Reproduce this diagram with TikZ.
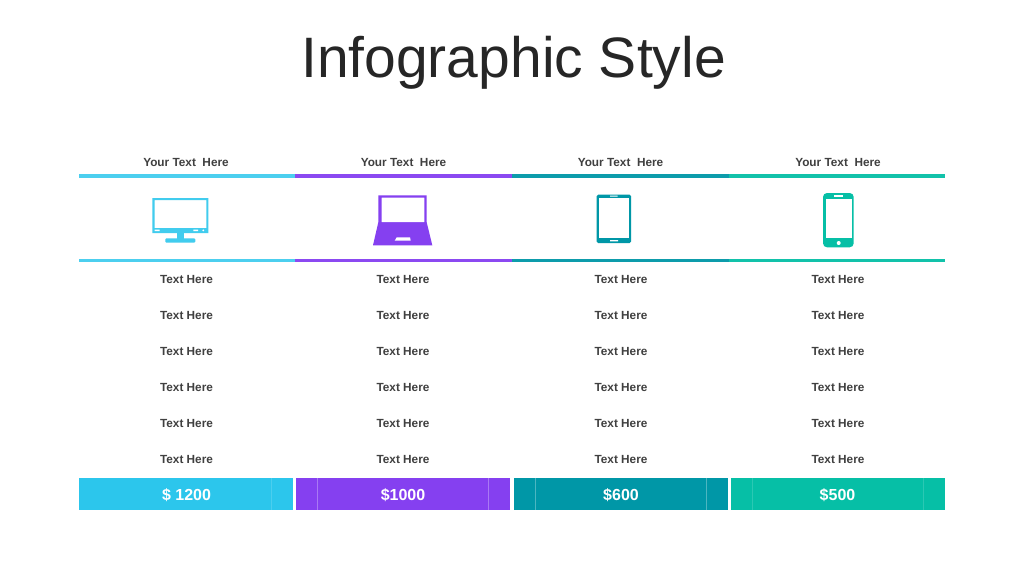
\documentclass[tikz,border=0pt]{standalone}
\usepackage{fontspec}
\setmainfont{Liberation Sans}
\definecolor{cA}{HTML}{2CC6EC}
\definecolor{cB}{HTML}{8540F0}
\definecolor{cC}{HTML}{0097A7}
\definecolor{cD}{HTML}{06BFA6}
\definecolor{ink}{HTML}{404040}
\definecolor{titleink}{HTML}{262626}
\tikzset{
  titletext/.style={text=titleink,font=\fontsize{57}{60}\selectfont,inner sep=0pt,anchor=center},
  headtext/.style={text=ink,font=\fontsize{11.8}{13}\selectfont\bfseries,inner sep=0pt,anchor=center},
  rowtext/.style={text=ink,font=\fontsize{11.8}{13}\selectfont\bfseries,inner sep=0pt,anchor=center},
  pricetext/.style={text=white,font=\fontsize{16}{18}\selectfont\bfseries,inner sep=0pt,anchor=center},
  rule/.style={line width=3pt},
  seam/.style={white,opacity=.3,line width=.7pt}
}
\begin{document}
\begin{tikzpicture}[x=1pt,y=-1pt]
\useasboundingbox (0,0) rectangle (1024,576);
\fill[white] (0,0) rectangle (1024,576);
\node[titletext] (title) at (513.5,63) {Infographic Style};
% header labels
\node[headtext] (h1) at (186,162.5) {Your Text\ \ Here};
\node[headtext] (h2) at (403.5,162.5) {Your Text\ \ Here};
\node[headtext] (h3) at (620.5,162.5) {Your Text\ \ Here};
\node[headtext] (h4) at (838,162.5) {Your Text\ \ Here};
% rules
\foreach \yy in {176,260.5}{
  \fill[cA!85!white] (79,\yy-1.6) rectangle (295,\yy+1.6);
  \fill[cB!95!white] (295,\yy-1.6) rectangle (512,\yy+1.6);
  \fill[cC!95!white] (512,\yy-1.6) rectangle (729,\yy+1.6);
  \fill[cD!95!white] (729,\yy-1.6) rectangle (945,\yy+1.6);
}
% monitor
\fill[cA!90!white,even odd rule] (152.3,198) rectangle (208.3,233) (154.7,200.2) rectangle (206.3,228);
\fill[white] (154.5,229.6) rectangle (159.5,231) (193.3,229.6) rectangle (198,231);
\fill[white] (203.3,230.3) circle (1);
\fill[cA!90!white] (176.7,233) rectangle (184.3,239);
\fill[cA!90!white,rounded corners=1pt] (165.3,238.3) rectangle (195.3,242.6);
% laptop
\fill[cB,even odd rule] (378.3,195.3) rectangle (426.7,223) (381.7,197.6) rectangle (424.3,222.3);
\fill[cB] (378.3,222.3) -- (426.7,222.3) -- (432.3,245.3) -- (373,245.3) -- cycle;
\fill[white] (396.7,237.3) -- (410,237.3) -- (410.7,240.7) -- (394.7,240.7) -- cycle;
% tablet
\fill[cC,rounded corners=1.5pt] (596.7,194.7) rectangle (631,243);
\fill[white] (598.7,197.5) rectangle (629.3,238.3);
\fill[white] (610,195.6) rectangle (617.7,196.6) (610,240) rectangle (618,241.4);
% phone
\fill[cD,rounded corners=4pt] (823,193) rectangle (853.7,247.3);
\fill[white] (825.5,198.7) rectangle (851.5,238);
\fill[white] (834,195) rectangle (843.3,196.6);
\fill[white] (838.7,243) circle (2);
% rows
\foreach \yy [count=\r] in {279.5,315.5,351.5,387.5,423.5,459.5}{
  \node[rowtext] (ra\r) at (186.5,\yy) {Text Here};
  \node[rowtext] (rb\r) at (403,\yy) {Text Here};
  \node[rowtext] (rc\r) at (621,\yy) {Text Here};
  \node[rowtext] (rd\r) at (838,\yy) {Text Here};
}
% price bars
\fill[cA] (79,477.5) rectangle (293,510);
\fill[cB] (296,477.5) rectangle (510.3,510);
\fill[cC] (514,477.5) rectangle (727.7,510);
\fill[cD] (731,477.5) rectangle (945,510);
\draw[seam,opacity=.15] (271,477.5) -- (271,510);
\draw[seam] (317.3,477.5) -- (317.3,510) (488.3,477.5) -- (488.3,510);
\draw[seam] (535.3,477.5) -- (535.3,510) (706.3,477.5) -- (706.3,510);
\draw[seam,opacity=.15] (752.3,477.5) -- (752.3,510) (923,477.5) -- (923,510);
\node[pricetext] (p1) at (186.5,495) {\$ 1200};
\node[pricetext] (p2) at (403,495) {\$1000};
\node[pricetext] (p3) at (621,495) {\$600};
\node[pricetext] (p4) at (837.5,495) {\$500};
\end{tikzpicture}
\end{document}
